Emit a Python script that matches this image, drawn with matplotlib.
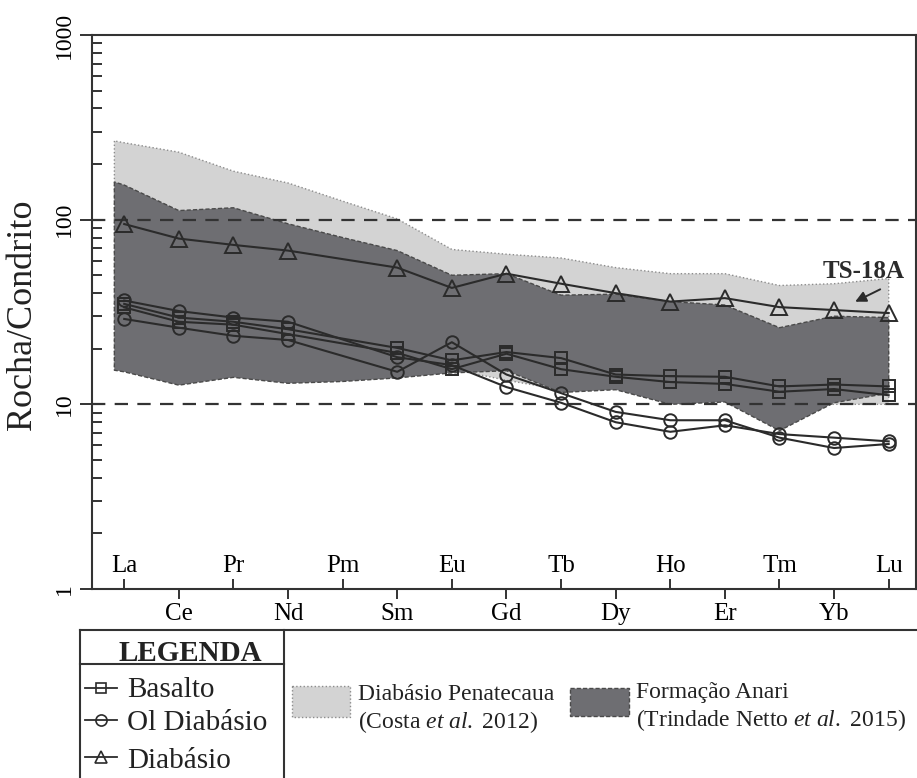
import matplotlib
matplotlib.use("Agg")
import matplotlib.pyplot as plt
from matplotlib.patches import Rectangle
from matplotlib.ticker import LogLocator, NullFormatter

plt.rcParams["font.family"] = "Liberation Serif"
plt.rcParams["mathtext.fontset"] = "custom"
plt.rcParams["mathtext.rm"] = "Liberation Serif"
plt.rcParams["mathtext.it"] = "Liberation Serif:italic"

# --- dados (normalizados ao condrito) ---
elements = ["La", "Ce", "Pr", "Nd", "Pm", "Sm", "Eu", "Gd",
            "Tb", "Dy", "Ho", "Er", "Tm", "Yb", "Lu"]
sample_elements = ["La", "Ce", "Pr", "Nd", "Sm", "Eu", "Gd",
                   "Tb", "Dy", "Ho", "Er", "Tm", "Yb", "Lu"]

diabasio = [94.7, 79, 73, 68, 55, 42.7, 51, 45, 40, 36, 37.6, 33.6, 32.4, 31.2]
basalto_a = [35, 29.5, 28, 25.5, 20.2, 17.3, 19.2, 17.8, 14.5, 14.2, 14.1, 12.5, 12.8, 12.5]
basalto_b = [33.5, 28, 27, 24, 19, 15.5, 18.8, 15.5, 14.1, 13.2, 12.9, 11.7, 12.1, 11.2]
ol_diab_a = [36.5, 32, 29.5, 28, 18, 16.3, 12.4, 10.2, 8.0, 7.1, 7.7, 6.9, 6.6, 6.3]
ol_diab_b = [29, 26, 23.5, 22.3, 15, 21.7, 14.5, 11.5, 9.1, 8.2, 8.2, 6.6, 5.8, 6.1]

# campos de referencia (primeiro ponto = borda esquerda do campo, antes do La)
band_x = [-0.18] + list(range(len(elements)))
penatecaua_max = [267, 261, 232, 183, 158, 126, 101, 69, 65, 62, 55, 51, 51, 44, 45, 48]
penatecaua_min = [15.5, 15.5, 13, 14.5, 13.5, 13.5, 14, 15.5, 13.5, 12, 12.2, 10.5, 10.5, 10, 10, 10]
anari_max = [160, 154, 112, 116, 95, 80, 68, 50, 51, 39, 39.5, 36, 34.5, 26, 30, 29.5]
anari_min = [15.3, 15, 12.7, 14, 13, 13.3, 13.9, 14.8, 15.2, 11.6, 12, 10, 10.3, 7.2, 10.2, 11.5]

INK = "#2b2b2b"
LIGHT = "#d3d3d3"
DARK = "#6e6e72"

fig = plt.figure(figsize=(9.17, 7.78), dpi=100)
W, H = 917.0, 778.0
ax = fig.add_axes([92 / W, 1 - 589 / H, 824 / W, 554 / H])

ax.fill_between(band_x, penatecaua_min, penatecaua_max, facecolor=LIGHT,
                edgecolor="#8c8c8c", linestyle=":", linewidth=1.0, zorder=1)
ax.fill_between(band_x, anari_min, anari_max, facecolor=DARK,
                edgecolor="#4a4a4a", linestyle=(0, (3, 1.5)), linewidth=1.0,
                zorder=1.5)

for ref in (10, 100):
    ax.axhline(ref, color="#333333", linewidth=1.6, dashes=(6, 4.2), zorder=2)

xs = [elements.index(e) for e in sample_elements]
mk = dict(color=INK, linewidth=1.5, markerfacecolor="none",
          markeredgecolor=INK, markeredgewidth=1.4, zorder=3)
for vals in (basalto_a, basalto_b):
    ax.plot(xs, vals, marker="s", markersize=8, **mk)
for vals in (ol_diab_a, ol_diab_b):
    ax.plot(xs, vals, marker="o", markersize=9, **mk)
ax.plot(xs, diabasio, marker="^", markersize=11, **mk)

ax.text(12.79, 48.3, "TS-18A", fontsize=18, fontweight="bold",
        va="baseline", color=INK, zorder=4)
ax.annotate("", xy=(13.34, 35.4), xytext=(13.89, 42.6),
            arrowprops=dict(arrowstyle="-|>", color=INK, lw=1.4,
                            mutation_scale=16), zorder=4)

# eixo y
ax.set_yscale("log")
ax.set_ylim(1, 1000)
ax.set_xlim(-0.59, 14.5)
ax.set_yticks([1, 10, 100, 1000], labels=["1", "10", "100", "1000"])
ax.yaxis.set_minor_locator(LogLocator(base=10, subs=range(2, 10)))
ax.yaxis.set_minor_formatter(NullFormatter())
ax.tick_params(axis="y", which="major", direction="out", length=8.5,
               width=1.4, color="#333333", labelsize=17, labelrotation=90,
               pad=3.5)
ax.tick_params(axis="y", which="minor", direction="in", length=7,
               width=1.4, color="#333333")
for t in ax.get_yticklabels():
    t.set_va("center")

ax.set_ylabel("Rocha/Condrito", fontsize=26, color="#222222")
ax.yaxis.set_label_coords(-0.064, 0.495)

# eixo x: elementos alternados dentro/fora
ax.set_xticks(range(0, len(elements), 2), labels=elements[0::2])
ax.set_xticks(range(1, len(elements), 2), labels=elements[1::2], minor=True)
ax.tick_params(axis="x", which="major", direction="in", length=7, width=1.4,
               color="#333333", labelsize=18, pad=-12)
ax.tick_params(axis="x", which="minor", direction="out", length=7, width=1.4,
               color="#333333", labelsize=18, pad=3)
for tick in ax.xaxis.get_major_ticks():
    tick.label1.set_verticalalignment("baseline")

for side in ("left", "bottom", "top", "right"):
    ax.spines[side].set_linewidth(1.5)
    ax.spines[side].set_color("#333333")

# --- legenda (coordenadas em pixels da figura) ---
lax = fig.add_axes([0, 0, 1, 1], zorder=-1)
lax.set_xlim(0, W)
lax.set_ylim(H, 0)
lax.axis("off")

frame = dict(color="#333333", linewidth=1.5)
lax.plot([80, W], [630, 630], **frame)
lax.plot([80, 80], [630, H], **frame)
lax.plot([284, 284], [630, H], **frame)
lax.plot([80, 284], [664, 664], **frame)
lax.text(190, 661, "LEGENDA", fontsize=21, fontweight="bold", ha="center",
         va="baseline", color="#222222")

rows = [("Basalto", "s", 7, 688, 697),
        ("Ol Diabásio", "o", 8, 720, 730),
        ("Diabásio", "^", 9, 757, 768)]
for label, marker, size, ym, yb in rows:
    lax.plot([85, 101, 117], [ym, ym, ym], color=INK, linewidth=1.3,
             marker=marker, markevery=[1], markersize=size,
             markerfacecolor="none", markeredgecolor=INK,
             markeredgewidth=1.2)
    lax.text(127, yb, label, fontsize=21, va="baseline", color="#222222")

lax.add_patch(Rectangle((292, 686), 58, 31, facecolor=LIGHT,
                        edgecolor="#8c8c8c", linestyle=":", linewidth=1.0))
lax.add_patch(Rectangle((570, 688), 59, 28, facecolor=DARK,
                        edgecolor="#4a4a4a", linestyle=(0, (3, 1.5)),
                        linewidth=1.0))
lax.text(358, 700, "Diabásio Penatecaua", fontsize=17, va="baseline",
         color="#222222")
lax.text(358, 728, r"(Costa $\mathit{et\ al.}$ 2012)", fontsize=17,
         va="baseline", color="#222222")
lax.text(636, 698, "Formação Anari", fontsize=17, va="baseline",
         color="#222222")
lax.text(636, 726, r"(Trindade Netto $\mathit{et\ al.}$ 2015)", fontsize=17,
         va="baseline", color="#222222")

fig.savefig("out.png", dpi=100)
